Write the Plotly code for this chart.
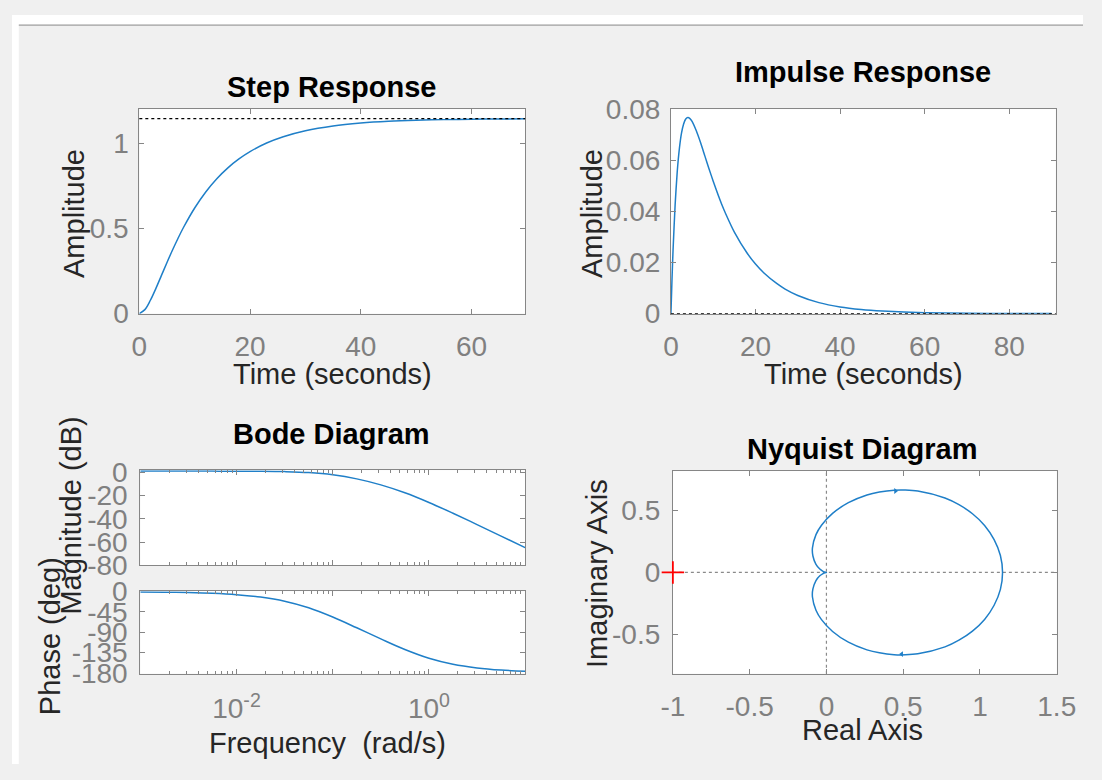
import plotly.graph_objects as go

# ---------------- data ----------------
step_t = [0, 1, 2, 3, 4, 5, 6, 7, 8, 10, 12, 14, 16, 18, 20, 23, 26, 30, 35, 40, 45, 50, 55, 60, 65, 70]
step_y = [0, 0.0236, 0.0787, 0.1489, 0.2248, 0.301, 0.3744, 0.4437, 0.508, 0.6214, 0.7158, 0.7937,
          0.8576, 0.910, 0.953, 1.0033, 1.0405, 1.0757, 1.1038, 1.1207, 1.1311, 1.1373, 1.1411,
          1.1434, 1.1448, 1.1457]
step_final = 1.147

imp_t = [0, 0.25, 0.5, 1, 1.5, 2, 2.5, 3, 3.5, 4, 4.5, 5, 6, 7, 8, 9, 10, 12, 13, 15, 18, 20, 22,
         25, 27, 30, 35, 40, 45, 50, 60, 70, 80, 90]
imp_y = [0, 0.0133, 0.0247, 0.0428, 0.0557, 0.0646, 0.0706, 0.0742, 0.0761, 0.0767, 0.0763, 0.0752,
         0.0715, 0.0669, 0.0618, 0.0567, 0.0518, 0.0428, 0.0389, 0.0319, 0.0237, 0.0194, 0.0159,
         0.0118, 0.0096, 0.0071, 0.0043, 0.0026, 0.0016, 0.001, 0.00036, 0.00013, 0.00005, 0.00002]
imp_final = 0

bode_w = [0.001, 0.001778, 0.003162, 0.005623, 0.01, 0.01778, 0.03162, 0.05623, 0.1, 0.1778,
          0.3162, 0.5623, 1.0, 1.778, 3.162, 5.623, 10.0]
bode_mag = [1.19, 1.19, 1.186, 1.176, 1.146, 1.05, 0.76, -0.06, -1.99, -5.52, -10.68, -17.49,
            -25.84, -35.17, -44.94, -54.86, -64.84]
bode_phase = [-0.69, -1.22, -2.17, -3.86, -6.86, -12.12, -21.17, -35.77, -56.31, -80.22, -104.76,
              -128.27, -147.72, -161.06, -169.15, -173.90, -176.57]

# Nyquist, positive-frequency branch (lower half); the negative-frequency branch is its mirror
nyq_re = [1.147, 1.133, 1.092, 1.030, 0.951, 0.863, 0.772, 0.595, 0.514, 0.441, 0.345, 0.264,
          0.143, 0.040, -0.032, -0.068, -0.091, -0.088, -0.068, -0.043, -0.022, -0.009, -0.002, 0]
nyq_im = [0, -0.136, -0.264, -0.378, -0.472, -0.545, -0.599, -0.655, -0.663, -0.662, -0.647, -0.623,
          -0.561, -0.475, -0.380, -0.304, -0.198, -0.132, -0.065, -0.027, -0.009, -0.002, -0.0003, 0]
nyq_arrow_re = [0.45, 0.49]
nyq_arrow_im = [0.655, -0.657]
critical_pt = (-1, 0)

step_xticks = [0, 20, 40, 60]
step_yticks = [0, 0.5, 1]
imp_xticks = [0, 20, 40, 60, 80]
imp_yticks = [0, 0.02, 0.04, 0.06, 0.08]
mag_ticks = [0, -20, -40, -60, -80]
mag_ticktext = ["0", "-20", "-40", "-60", "-80"]
phase_ticks = [0, -45, -90, -135, -180]
phase_ticktext = ["0", "-45", "-90", "-135", "-180"]
bode_xticks = [0.001, 0.01, 0.1, 1, 10]
bode_xticktext = ["", "10<sup>-2</sup>", "", "10<sup>0</sup>", ""]
nyq_xticks = [-1, -0.5, 0, 0.5, 1, 1.5]
nyq_xticktext = ["-1", "-0.5", "0", "0.5", "1", "1.5"]
nyq_yticks = [-0.5, 0, 0.5]
nyq_yticktext = ["-0.5", "0", "0.5"]

# ---------------- styling ----------------
W, H = 1102, 780
FONT = "Liberation Sans, Arial, Helvetica, sans-serif"
LINE_C = "#1f7fc8"
AX_C = "#868686"
TICK_C = "#808080"
LAB_C = "#262626"
BG = "#f0f0f0"
LBL = 29
TICK = 28
TTL = 29


def fx(px):
    return px / W


def fy(py):
    return 1 - py / H


fig = go.Figure()

fig.add_trace(go.Scatter(x=step_t, y=step_y, mode="lines", line=dict(color=LINE_C, width=1.5, shape="spline"),
                         xaxis="x", yaxis="y", showlegend=False))
fig.add_trace(go.Scatter(x=imp_t, y=imp_y, mode="lines", line=dict(color=LINE_C, width=1.5, shape="spline", smoothing=0.6),
                         xaxis="x2", yaxis="y2", showlegend=False))
fig.add_trace(go.Scatter(x=bode_w, y=bode_mag, mode="lines", line=dict(color=LINE_C, width=1.5, shape="spline"),
                         xaxis="x3", yaxis="y3", showlegend=False))
fig.add_trace(go.Scatter(x=bode_w, y=bode_phase, mode="lines", line=dict(color=LINE_C, width=1.5, shape="spline"),
                         xaxis="x4", yaxis="y4", showlegend=False))
nx = list(reversed(nyq_re)) + nyq_re[1:]
ny = [-v for v in reversed(nyq_im)] + nyq_im[1:]
fig.add_trace(go.Scatter(x=nx, y=ny, mode="lines", line=dict(color=LINE_C, width=1.5, shape="spline", smoothing=0.8),
                         xaxis="x5", yaxis="y5", showlegend=False))
fig.add_trace(go.Scatter(x=nyq_arrow_re, y=nyq_arrow_im, mode="markers",
                         marker=dict(symbol=["triangle-right", "triangle-left"], size=5, color=LINE_C),
                         xaxis="x5", yaxis="y5", showlegend=False))
fig.add_trace(go.Scatter(x=[critical_pt[0]], y=[critical_pt[1]], mode="markers",
                         marker=dict(symbol="cross-thin", size=16, line=dict(color="red", width=1.8)),
                         xaxis="x5", yaxis="y5", showlegend=False, cliponaxis=False))

shapes = [
    dict(type="rect", xref="paper", yref="paper", x0=0, x1=1, y0=fy(10), y1=1, fillcolor="white",
         line=dict(width=0), layer="below"),
    dict(type="rect", xref="paper", yref="paper", x0=0, x1=fx(7), y0=0, y1=1, fillcolor="white",
         line=dict(width=0), layer="below"),
    dict(type="line", xref="paper", yref="paper", x0=fx(7), x1=1, y0=fy(10.5), y1=fy(10.5),
         line=dict(color="#a0a0a0", width=1.2), layer="below"),
    dict(type="line", xref="x domain", yref="y", x0=0, x1=1, y0=step_final, y1=step_final,
         line=dict(color="#000000", width=1.2, dash="dot")),
    dict(type="line", xref="x2 domain", yref="y2", x0=0, x1=1, y0=imp_final, y1=imp_final,
         line=dict(color="#000000", width=1.2, dash="dot")),
    dict(type="line", xref="x5 domain", yref="y5", x0=0, x1=1, y0=0, y1=0,
         line=dict(color="#8a8a8a", width=1.2, dash="dot"), layer="below"),
    dict(type="line", xref="x5", yref="y5 domain", x0=0, x1=0, y0=0, y1=1,
         line=dict(color="#8a8a8a", width=1.2, dash="dot"), layer="below"),
]

tickfont = dict(family=FONT, size=TICK, color=TICK_C)


def axis(domain, rng, tickvals, ticktext=None, axtype="linear", anchor=None, standoff=6, **kw):
    d = dict(domain=domain, range=rng, type=axtype, tickvals=tickvals, showline=True, linecolor=AX_C,
             linewidth=1, mirror="ticks", ticks="inside", ticklen=5, tickcolor=AX_C, tickwidth=1,
             showgrid=False, zeroline=False, tickfont=tickfont, anchor=anchor, fixedrange=True,
             ticklabelstandoff=standoff, ticklabeloverflow="allow")
    if ticktext is not None:
        d["ticktext"] = ticktext
    d.update(kw)
    return d


minor_log = dict(ticks="inside", ticklen=3, tickcolor=AX_C,
                 tickvals=[m * 10 ** e for e in range(-3, 1) for m in range(2, 10)])

layout = dict(
    width=W, height=H, margin=dict(l=0, r=0, t=0, b=0),
    paper_bgcolor=BG, plot_bgcolor="white", showlegend=False,
    font=dict(family=FONT, color=LAB_C),
    xaxis=axis([fx(131), fx(528)], [0, 69.7], step_xticks, anchor="y", standoff=8),
    yaxis=axis([fy(311), fy(98)], [0, 1.203], step_yticks, anchor="x", standoff=4),
    xaxis2=axis([fx(678), fx(1074)], [0, 91], imp_xticks, anchor="y2", standoff=8),
    yaxis2=axis([fy(311), fy(98)], [0, 0.08], imp_yticks, anchor="x2", standoff=4),
    xaxis3=axis([fx(132), fx(528)], [-3, 1], bode_xticks, ["", "", "", "", ""], axtype="log", anchor="y3",
                minor=minor_log),
    yaxis3=axis([fy(573), fy(474)], [-80, 2], mag_ticks, mag_ticktext, anchor="x3", standoff=6),
    xaxis4=axis([fx(132), fx(528)], [-3, 1], bode_xticks, bode_xticktext, axtype="log", anchor="y4",
                minor=minor_log, standoff=10),
    yaxis4=axis([fy(686), fy(600)], [-182, 1], phase_ticks, phase_ticktext, anchor="x4", standoff=6),
    xaxis5=axis([fx(680), fx(1075)], [-1, 1.5], nyq_xticks, nyq_xticktext, anchor="y5", standoff=8,
                layer="below traces"),
    yaxis5=axis([fy(686), fy(475)], [-0.815, 0.815], nyq_yticks, nyq_yticktext, anchor="x5", standoff=6,
                layer="below traces"),
    shapes=shapes,
)
fig.update_layout(**layout)

ann = []


def add_text(text, px, py, size=LBL, bold=False, angle=0, color=LAB_C):
    ann.append(dict(text=("<b>%s</b>" % text) if bold else text, x=fx(px), y=fy(py), xref="paper",
                    yref="paper", showarrow=False, xanchor="center", yanchor="middle", textangle=angle,
                    font=dict(family=FONT, size=size, color=color)))


add_text("Step Response", 329, 75, size=TTL, bold=True, color="#000000")
add_text("Impulse Response", 876, 59, size=TTL, bold=True, color="#000000")
add_text("Bode Diagram", 329, 436, size=TTL, bold=True, color="#000000")
add_text("Nyquist Diagram", 875, 452, size=TTL, bold=True, color="#000000")
add_text("Time (seconds)", 330, 374)
add_text("Time (seconds)", 876, 374)
add_text("Frequency  (rad/s)", 325, 758)
add_text("Real Axis", 875, 745)
add_text("Amplitude", 64, 207, angle=-90)
add_text("Amplitude", 597, 207, angle=-90)
add_text("Magnitude (dB)", 61, 521, angle=-90)
add_text("Phase (deg)", 39, 647, angle=-90)
add_text("Imaginary Axis", 602, 582, angle=-90)

fig.update_layout(annotations=ann)
fig.write_html("out.html")
